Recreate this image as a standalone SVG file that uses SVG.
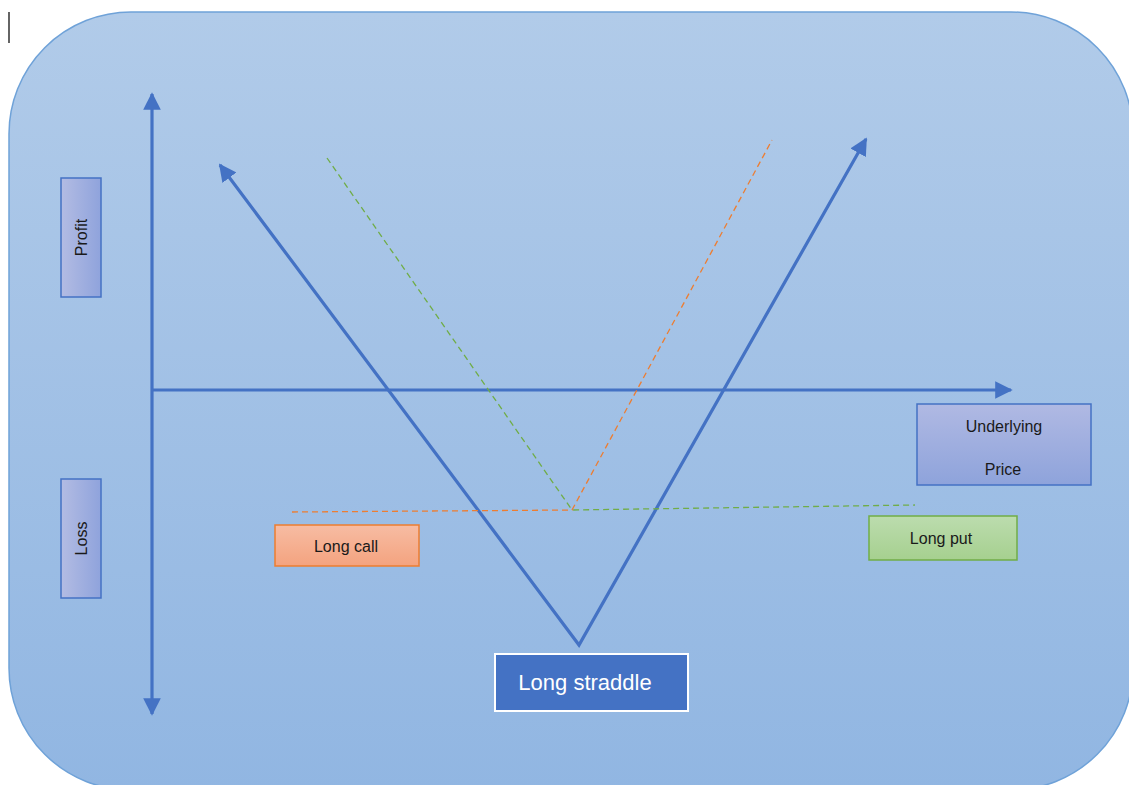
<svg xmlns="http://www.w3.org/2000/svg" width="1129" height="785" viewBox="0 0 1129 785">
<defs>
<linearGradient id="bg" x1="0" y1="0" x2="0" y2="1"><stop offset="0" stop-color="#b1cbe9"/><stop offset="1" stop-color="#91b6e2"/></linearGradient>
<linearGradient id="lav" x1="0" y1="0" x2="1" y2="0"><stop offset="0" stop-color="#b3bce3"/><stop offset="1" stop-color="#8fa3dc"/></linearGradient>
<linearGradient id="lav2" x1="0" y1="0" x2="0" y2="1"><stop offset="0" stop-color="#b0b9e3"/><stop offset="1" stop-color="#8ea3db"/></linearGradient>
<linearGradient id="org" x1="0" y1="0" x2="0" y2="1"><stop offset="0" stop-color="#f7bca3"/><stop offset="1" stop-color="#f4a37f"/></linearGradient>
<linearGradient id="grn" x1="0" y1="0" x2="0" y2="1"><stop offset="0" stop-color="#bcdcae"/><stop offset="1" stop-color="#a6d08f"/></linearGradient>
<marker id="ah" viewBox="0 0 10 10" refX="9" refY="5" markerWidth="5.5" markerHeight="5.5" orient="auto-start-reverse" markerUnits="strokeWidth"><path d="M0,0 L10,5 L0,10 z" fill="#4472c4"/></marker>
<style>
.axis{stroke:#4472c4;stroke-width:3.2;fill:none}
.lbl{font-family:"Liberation Sans",Arial,sans-serif;font-size:16px;fill:#1a1a1a}
.box{stroke-width:1.5}
</style>
</defs>
<rect x="9" y="12" width="1124" height="778" rx="122" ry="122" fill="url(#bg)" stroke="#6fa2d8" stroke-width="1.5"/>
<line x1="9" y1="12" x2="9" y2="43" stroke="#111" stroke-width="1.3"/>
<g id="connectors">
<line class="axis" x1="152" y1="94" x2="152" y2="714" marker-start="url(#ah)" marker-end="url(#ah)"/>
<line class="axis" x1="152" y1="390" x2="1011" y2="390" marker-end="url(#ah)"/>
<polyline class="axis" points="220,165 579,645 866,139" marker-start="url(#ah)" marker-end="url(#ah)"/>
<polyline points="327,158 572,510 915,505" fill="none" stroke="#70ad47" stroke-width="1.3" stroke-dasharray="6,4"/>
<polyline points="292,512 572,510 772,140" fill="none" stroke="#ed7d31" stroke-width="1.3" stroke-dasharray="6,4"/>
</g>
<g id="profit">
<rect class="box" x="61" y="178" width="40" height="119" fill="url(#lav)" stroke="#4472c4"/>
<text class="lbl" transform="translate(87,237.5) rotate(-90)" text-anchor="middle">Profit</text>
</g>
<g id="loss">
<rect class="box" x="61" y="479" width="40" height="119" fill="url(#lav)" stroke="#4472c4"/>
<text class="lbl" transform="translate(87,538.5) rotate(-90)" text-anchor="middle">Loss</text>
</g>
<g id="underlying-price">
<rect class="box" x="917" y="404" width="174" height="81" fill="url(#lav2)" stroke="#4472c4"/>
<text class="lbl" x="1004" y="432" text-anchor="middle">Underlying</text>
<text class="lbl" x="1003" y="475" text-anchor="middle">Price</text>
</g>
<g id="long-call">
<rect class="box" x="275" y="525" width="144" height="41" fill="url(#org)" stroke="#ed7d31"/>
<text class="lbl" x="346" y="552" text-anchor="middle">Long call</text>
</g>
<g id="long-put">
<rect class="box" x="869" y="516" width="148" height="44" fill="url(#grn)" stroke="#70ad47"/>
<text class="lbl" x="941" y="544" text-anchor="middle">Long put</text>
</g>
<g id="long-straddle">
<rect x="495" y="654" width="193" height="57" fill="#4472c4" stroke="#ffffff" stroke-width="2"/>
<text x="585" y="690" text-anchor="middle" font-family="'Liberation Sans',Arial,sans-serif" font-size="22" fill="#ffffff">Long straddle</text>
</g>
</svg>
